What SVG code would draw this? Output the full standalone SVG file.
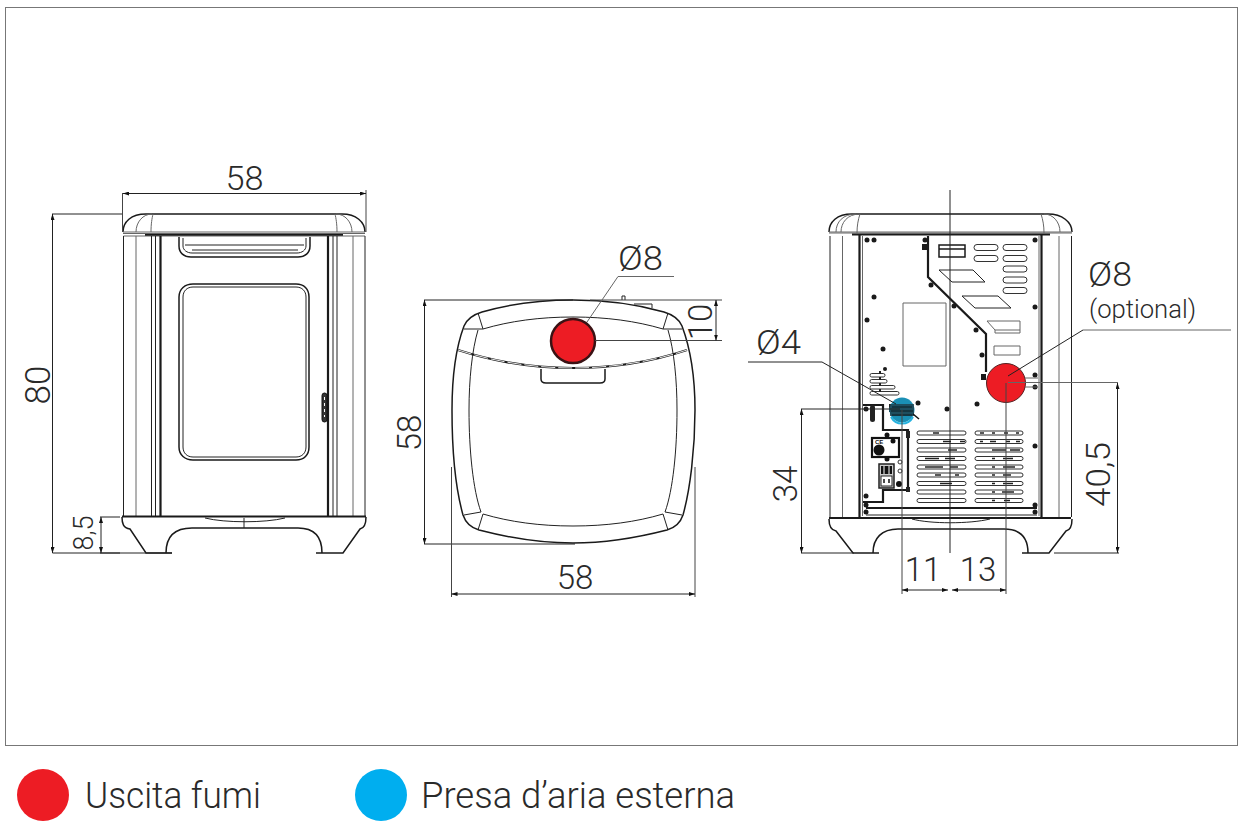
<svg xmlns="http://www.w3.org/2000/svg" width="1243" height="833" viewBox="0 0 1243 833">
<style>
.l{fill:none;stroke:#222;stroke-width:1}
.g{fill:none;stroke:#666;stroke-width:1}
.m{fill:none;stroke:#1a1a1a;stroke-width:1.500}
.h{fill:none;stroke:#1a1a1a;stroke-width:2.200}
.d{fill:none;stroke:#222;stroke-width:1;marker-start:url(#a);marker-end:url(#a)}
.e{fill:none;stroke:#444;stroke-width:1}
.t{font-family:"Roboto","Liberation Sans",sans-serif;font-weight:300;fill:#2a2a2a;font-size:33px;text-anchor:middle}
.k{fill:#1a1a1a}
.s{fill:#fff;stroke:#333;stroke-width:1}
</style>
<defs>
<marker id="a" viewBox="0 0 6 4" refX="6" refY="2" markerWidth="6" markerHeight="4" markerUnits="userSpaceOnUse" orient="auto-start-reverse"><path d="M0,0L6,2L0,4Z" fill="#111"/></marker>
</defs>
<rect id="frame" x="5.500" y="7.500" width="1232" height="738" fill="#fff" stroke="#777" stroke-width="1"/>

<g id="front-view">
<path class="m" d="M123,232C123,222 131,214 146,214H342C356,214 365,222 365,232"/>
<path class="g" d="M123,232H365M123,233.500H365M136,232C136,222 143,214 152,214M151,232C151,224 152,218 153,214M335,214C336,218 337,224 337,232M352,232C352,222 345,214 336,214"/>
<path class="h" d="M145,235H343"/>
<path class="g" d="M123.500,236H365M136,236V516M353,236V516"/>
<path class="l" d="M123.500,236V516M365,236V516M151.500,236V516M155.500,236V516M333,236V516M337,236V516"/>
<path class="h" d="M160.500,236V516M328,236V516"/>
<path class="m" d="M179,237V246C179,253 184,257 191,257H298C305,257 310,253 310,246V237"/>
<path class="l" d="M183,238V246C183,250 187,253 192,253H297C302,253 306,250 306,246V238M185,245H304M192,250H298"/>
<path class="m" d="M179,297C179,289 185,284 193,284H296C304,284 309,289 309,297V447C309,455 304,460 296,460H193C185,460 179,455 179,447Z"/>
<path class="l" d="M183,297C183,291 187,287 193,287H296C302,287 306,291 306,297V447C306,453 302,457 296,457H193C187,457 183,453 183,447Z"/>
<rect x="322" y="393" width="5" height="29" rx="2.500" fill="#333" stroke="#111"/>
<path d="M324.500,397v3m0,3v3m0,3v3m0,3v2" stroke="#fff" stroke-width="1"/>
<path class="h" d="M122,516.500H366"/>
<path class="m" d="M122,517C122,523 123,528 130,529L146,553H172M166,553C166,536 175,528 192,528H298C314,528 322,536 322,553M316,553H343L360,529C365,528 366,523 366,517"/>
<path class="l" d="M205,518C225,523 265,523 285,518M244,518V528"/>
</g>

<g id="top-view">
<path class="m" d="M573,300C540,300 510,304 482,312C472,315 467,319 464,326C455,350 452,380 452,410C452,450 456,490 463,515C466,524 472,528 479,530C510,538 540,543 573,543C606,543 636,538 667,530C674,528 680,524 683,515C690,490 695,450 695,410C695,380 691,350 682,326C679,319 674,315 664,312C636,304 606,300 573,300Z"/>
<path class="l" d="M483,329C510,321 540,317 573,317C606,317 636,321 663,329M478,313L483,329M464,329L483,329M668,313L663,329M682,329L663,329M478,330C472,350 469,380 469,410C469,450 473,490 481,512M668,330C674,350 677,380 677,410C677,450 673,490 665,512M483,514C510,522 540,526 573,526C606,526 636,522 663,514M481,512L464,515M483,514L478,530M665,512L682,515M663,514L668,530"/>
<path class="h" stroke-width="3" d="M458,350C495,362 535,368 573,368C611,368 651,362 687,350"/>
<path d="M458,350C495,362 535,368 573,368C611,368 651,362 687,350" fill="none" stroke="#fff" stroke-width=".9" stroke-dasharray="14 3"/>
<path class="m" d="M541,369V379C541,382 543,383 546,383H600C603,383 605,382 605,379V369"/>
<path class="l" d="M622,300V296H625V300M634,304H652V308"/>
<circle cx="573" cy="341" r="22" fill="#ed1c24" stroke="#3a1214" stroke-width="2.500"/>
</g>

<g id="back-view">
<path class="m" d="M829,232C829,222 837,214 852,214H1048C1062,214 1072,222 1072,232"/>
<path class="g" d="M829,232H1072M829,233H1072M836,232C836,222 843,214 856,214M841,232C841,223 847,214 860,214M857,233C857,226 858,220 860,214M1041,214C1043,220 1044,226 1044,233M1060,232C1060,222 1053,214 1044,214"/>
<path class="g" d="M842.500,236V517M1059,236V517"/>
<path class="l" d="M830,236V517M1071.500,236V517"/>
<path class="h" d="M852,234.500H1050"/>
<path class="h" stroke-width="3" d="M859.500,235V517M1041.500,235V517"/>
<path class="g" d="M862.500,236V516M1039,236V516"/>
<path class="h" d="M928,236V277L986,334V372"/>
<g class="slots-top">
<rect class="s" x="974" y="244.500" width="24" height="6" rx="3"/><rect class="s" x="974" y="255.500" width="24" height="6" rx="3"/>
<rect class="s" x="1003" y="244.500" width="24" height="6" rx="3"/><rect class="s" x="1003" y="255.500" width="24" height="6" rx="3"/><rect class="s" x="1003" y="266" width="24" height="6" rx="3"/><rect class="s" x="1003" y="277" width="24" height="6" rx="3"/><rect class="s" x="1003" y="287.500" width="24" height="6" rx="3"/>
</g>
<path class="m" d="M939,245H965V257H939ZM939,249H965"/>
<path class="l" d="M939,270H973L985,282H952ZM962,296H998L1011,308H975Z"/>
<path class="g" stroke-width="1.500" d="M903,303H946V366H903Z"/>
<path class="g" stroke-width="1.300" d="M987,321H1020V333H995V330L987,321ZM995,330H1020M994,346H1020V355H994Z"/>
<g class="k">
<circle cx="867" cy="240" r="2.500"/><circle cx="874" cy="240" r="2.500"/><circle cx="925" cy="240" r="2.500"/><rect x="922" y="244" width="6" height="6"/><circle cx="1035" cy="240" r="2.500"/><circle cx="874" cy="297" r="2.500"/><circle cx="867" cy="320" r="2.500"/><circle cx="931" cy="285" r="2.500"/><circle cx="954" cy="306" r="2.500"/><circle cx="976" cy="330" r="2.500"/><circle cx="982" cy="355" r="2.500"/><circle cx="883" cy="349" r="2.500"/><circle cx="885" cy="369" r="2"/><circle cx="1035" cy="307" r="2.500"/><circle cx="1035" cy="375" r="2.500"/><circle cx="1035" cy="387" r="2.500"/><circle cx="918" cy="403" r="2.500"/><circle cx="977" cy="404" r="2.500"/><circle cx="947" cy="409" r="2.500"/><circle cx="1035" cy="446" r="2.500"/><circle cx="866" cy="496" r="2.500"/><circle cx="866" cy="505" r="2.500"/><circle cx="1035" cy="505" r="2.500"/><circle cx="866" cy="512" r="2.500"/><circle cx="1035" cy="512" r="2.500"/><circle cx="866" cy="409" r="2.500"/><rect x="981" y="374" width="5" height="6"/>
</g>
<g class="slots-small">
<rect class="s" x="870" y="373.500" width="15" height="3.500" rx="1.700"/><rect class="s" x="870" y="379.500" width="17" height="3.500" rx="1.700"/><rect class="s" x="870" y="385.500" width="25" height="3.500" rx="1.700"/><rect class="s" x="870" y="391.500" width="29" height="3.500" rx="1.700"/>
<path d="M880,371V394" stroke="#222" stroke-width="2" stroke-dasharray="3 3"/>
</g>
<path class="h" d="M863,405H883V430H908V490H883V502H863"/>
<rect x="906" y="431" width="4" height="7" fill="#222"/><rect x="906" y="487" width="4" height="5" fill="#222"/>
<rect x="870" y="405" width="5" height="17" rx="2.500" fill="#222"/>
<path d="M889,404H895V412H889Z" fill="#222"/>
<rect x="872" y="438" width="27" height="19" fill="#fff" stroke="#111" stroke-width="2.200"/>
<circle cx="879" cy="450" r="5.500" fill="#111"/>
<circle cx="887" cy="435" r="2.500" fill="#111"/><circle cx="893" cy="441" r="2.500" fill="#111"/><circle cx="887" cy="459" r="2.500" fill="#111"/>
<text x="875" y="444" font-family="Liberation Sans,sans-serif" font-size="6" font-weight="700" fill="#111">CE</text>
<rect x="879" y="464" width="15" height="24" fill="#ccc" stroke="#222" stroke-width="1.500"/>
<rect x="881" y="466" width="11" height="8" fill="#111"/><rect x="881" y="476" width="11" height="10" fill="#fff" stroke="#222"/>
<path d="M884,466V474M889,466V474" stroke="#fff" stroke-width="1"/>
<path d="M884,479V483M889,479V483" stroke="#111" stroke-width="1.500"/>
<circle class="s" cx="900" cy="462" r="2"/><circle class="s" cx="900" cy="471" r="2"/><circle cx="899" cy="484" r="3" fill="#111"/>
<g class="slots-bottom">
<rect class="s" x="917" y="431" width="49" height="4" rx="2"/><rect class="s" x="917" y="439.500" width="49" height="4" rx="2"/><rect class="s" x="917" y="448" width="49" height="4" rx="2"/><rect class="s" x="917" y="456.500" width="49" height="4" rx="2"/><rect class="s" x="917" y="465" width="49" height="4" rx="2"/><rect class="s" x="917" y="473" width="49" height="4" rx="2"/><rect class="s" x="917" y="481.500" width="49" height="4" rx="2"/><rect class="s" x="917" y="490" width="49" height="4" rx="2"/><rect class="s" x="917" y="498.500" width="49" height="4" rx="2"/>
<rect class="s" x="975" y="431" width="48" height="4" rx="2"/><rect class="s" x="975" y="439.500" width="48" height="4" rx="2"/><rect class="s" x="975" y="448" width="48" height="4" rx="2"/><rect class="s" x="975" y="456.500" width="48" height="4" rx="2"/><rect class="s" x="975" y="465" width="48" height="4" rx="2"/><rect class="s" x="975" y="473" width="48" height="4" rx="2"/><rect class="s" x="975" y="481.500" width="48" height="4" rx="2"/><rect class="s" x="975" y="490" width="48" height="4" rx="2"/><rect class="s" x="975" y="498.500" width="48" height="4" rx="2"/>
<path d="M933,433h6M943,441.500h8M960,441.500h5M948,450h9M925,458.500h14M945,458.500h10M925,467h18M950,467h8M935,475h6M955,475h4M940,483.500h12M980,433h4M992,433h3M1004,433h4M1016,433h3M980,441.500h3M990,441.500h6M1006,441.500h4M1016,441.500h4M992,450h14M1010,450h10M1003,458.500h10M1003,467h12M1003,475h8M1003,483.500h10M1002,492h12M1004,500.500h6M992,458.500h3M992,467h3M992,475h3M992,483.500h3M992,492h3M992,500.500h3" stroke="#222" stroke-width="1.500" fill="none"/>
</g>
<path class="h" d="M866,508H1037"/>
<path class="l" d="M866,515H1037"/>
<circle cx="902" cy="410" r="12.500" fill="#1a8fb5"/>
<path d="M890,404H914V416H890Z" fill="#1f3d4a" opacity=".8"/>
<path d="M892,407H912M891,411H913M892,415H912" stroke="#0d1d24" stroke-width="1"/>
<path d="M891,417A12.500,12.500 0 0 0 913,417" fill="none" stroke="#27b3e0" stroke-width="2"/>
<path d="M913,414L919,419" stroke="#111" stroke-width="1.500"/>
<circle cx="1006" cy="383" r="19.500" fill="#ed1c24" stroke="#522" stroke-width="1"/>
<path class="g" stroke-width="1.500" d="M1025,378H1038M1025,387H1038"/>
<path class="h" d="M829,518H1071"/>
<path class="m" d="M829,519C829,525 830,530 836,531L853,553H879M873,553C873,538 882,529 898,529H1004C1021,529 1028,538 1028,553M1022,553H1049L1066,531C1071,530 1072,525 1072,519"/>
<path class="l" d="M912,519C930,524 970,524 990,519"/>
</g>

<g id="connectors">
<path class="e" d="M122.500,193V232M366,190V232"/>
<path class="d" d="M123,193.500H366"/>
<path class="l" d="M52,214H122"/>
<path class="l" d="M52.500,553H172"/>
<path class="d" d="M52.500,214V553"/>
<path class="l" d="M100,517H120M100,553H120"/>
<path class="d" d="M101,517V553"/>
<path class="l" d="M424,300H573"/>
<path class="l" d="M424,544H575"/>
<path class="d" d="M424.500,300V544"/>
<path class="e" d="M590,300H722M595,340.500H722"/>
<path class="d" d="M716,300V340.500"/>
<path class="e" d="M451.500,467V597M695,467V597"/>
<path class="d" d="M451.500,594H695"/>
<path class="g" d="M674,276.500H618L587,322"/>
<path class="l" d="M950,190V553"/>
<path class="e" d="M902,410V594M1006,383V594"/>
<path class="d" d="M902,590H948"/>
<path class="d" d="M952,590H1006"/>
<path class="l" d="M748,362H822L896,404"/>
<path class="g" stroke-width="1.200" d="M1231,330H1083"/>
<path class="l" d="M1083,330L1008,376"/>
<path class="g" stroke-width="1.200" d="M1008,382.500H1118"/>
<path class="d" d="M1117.500,383V553"/>
<path class="l" d="M1054,553H1119"/>
<path class="l" d="M801,409H900M801,553H854"/>
<path class="d" d="M801.500,409V553"/>
</g>

<g id="labels">
<text class="t" x="244.500" y="190" textLength="38" lengthAdjust="spacingAndGlyphs">58</text>
<text class="t" x="50" y="385" transform="rotate(-90 50 385)" style="font-size:35px">80</text>
<text class="t" x="93" y="533" transform="rotate(-90 93 533)" style="font-size:27px">8,5</text>
<text class="t" x="640.500" y="270" textLength="45" lengthAdjust="spacingAndGlyphs">Ø8</text>
<text class="t" x="712" y="322" transform="rotate(-90 712 322)">10</text>
<text class="t" x="421" y="433" transform="rotate(-90 421 433)">58</text>
<text class="t" x="575" y="589">58</text>
<text class="t" x="778.500" y="354" textLength="45" lengthAdjust="spacingAndGlyphs">Ø4</text>
<text class="t" x="1110" y="286" textLength="44" lengthAdjust="spacingAndGlyphs">Ø8</text>
<text class="t" x="1142.500" y="318" style="font-size:26px" textLength="107" lengthAdjust="spacingAndGlyphs">(optional)</text>
<text class="t" x="797" y="484" transform="rotate(-90 797 484)">34</text>
<text class="t" x="1110" y="474.500" transform="rotate(-90 1110 474.500)" style="font-size:34px" textLength="65" lengthAdjust="spacingAndGlyphs">40,5</text>
<text class="t" x="923" y="581">11</text>
<text class="t" x="978" y="581">13</text>
</g>

<g id="legend-fumi">
<circle cx="43" cy="795" r="26" fill="#ed1c24"/>
<text class="t" x="85" y="808" style="font-size:36px;text-anchor:start" textLength="176" lengthAdjust="spacingAndGlyphs">Uscita fumi</text>
</g>
<g id="legend-aria">
<circle cx="381" cy="795" r="26" fill="#00aeef"/>
<text class="t" x="421" y="808" style="font-size:36px;text-anchor:start" textLength="314" lengthAdjust="spacingAndGlyphs">Presa d’aria esterna</text>
</g>
</svg>
